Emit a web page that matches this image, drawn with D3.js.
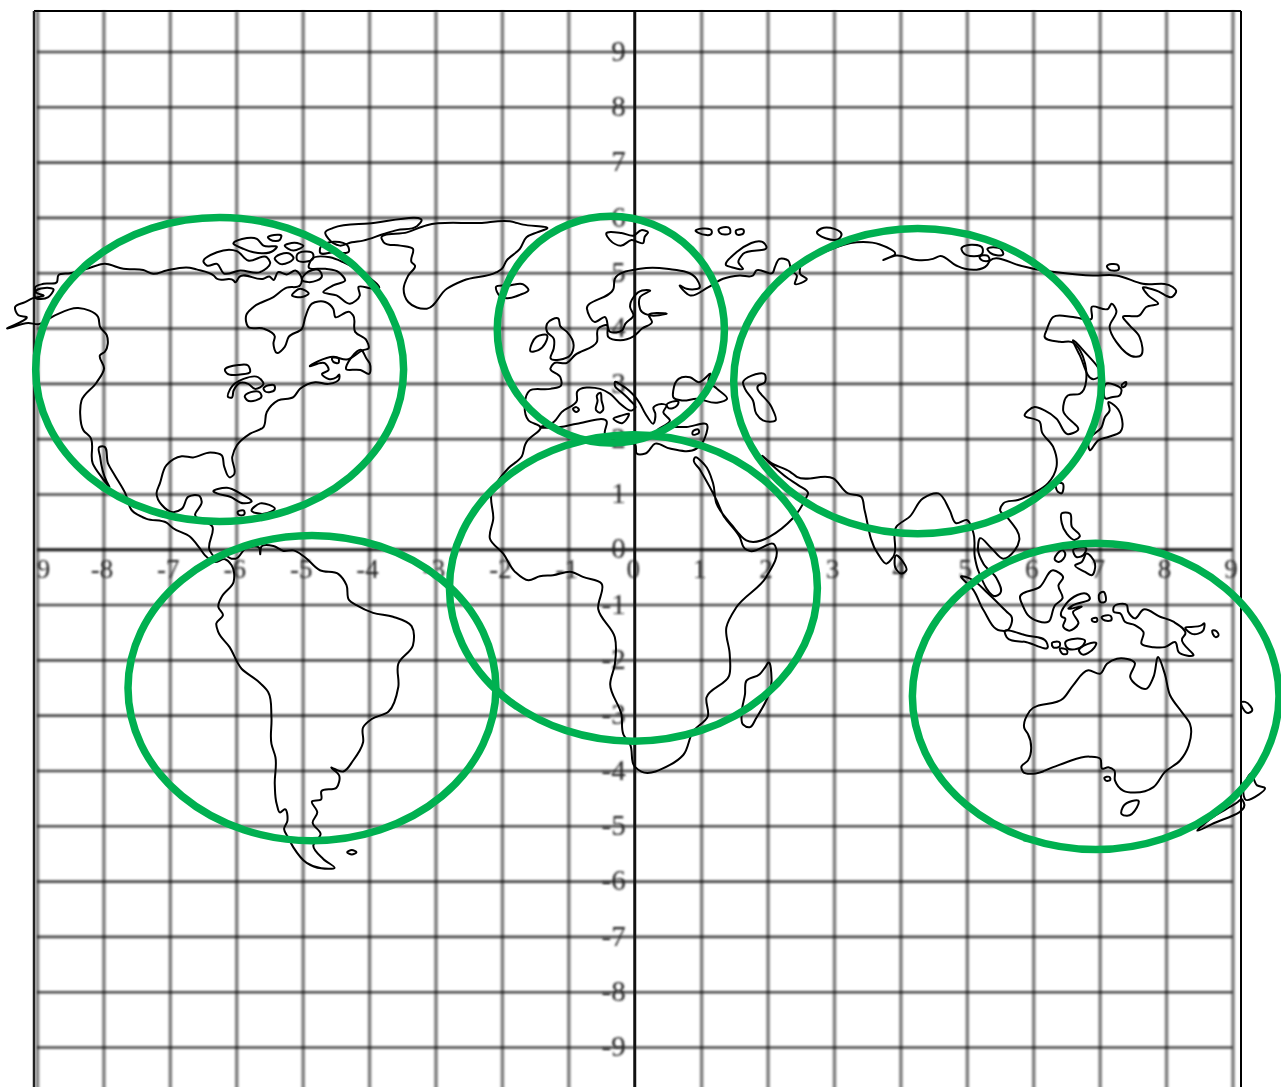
<!DOCTYPE html>
<html>
<head>
<meta charset="utf-8">
<script src="https://cdn.jsdelivr.net/npm/d3@7"></script>
<style>
  html, body { margin: 0; padding: 0; background: #fff; }
  svg { display: block; }
</style>
</head>
<body>
<div id="chart"></div>
<script>
// tick values and the labels printed on the grid
const gridTicks = [-9, -8, -7, -6, -5, -4, -3, -2, -1, 0, 1, 2, 3, 4, 5, 6, 7, 8, 9];
const xTickLabels = ["9", "-8", "-7", "-6", "-5", "-4", "-3", "-2", "-1", "0", "1", "2", "3", "4", "5", "6", "7", "8", "9"];
const yTickLabels = ["-9", "-8", "-7", "-6", "-5", "-4", "-3", "-2", "-1", "0", "1", "2", "3", "4", "5", "6", "7", "8", "9"];

// green regions: centre and radii in grid units
const regionCx = [-6.25, -0.36, 4.26, -0.02, -4.86, 6.94];
const regionCy = [3.25, 3.97, 3.04, -0.70, -2.51, -2.66];
const regionRx = [2.77, 1.71, 2.77, 2.77, 2.77, 2.76];
const regionRy = [2.75, 2.05, 2.76, 2.77, 2.76, 2.77];

// coastlines, [x, y]
const americas = [[-9.45,3.99],[-9.16,4.20],[-9.28,4.23],[-9.33,4.38],[-9.18,4.47],[-9.06,4.54],[-8.90,4.59],[-9.02,4.65],[-9.03,4.73],[-8.90,4.80],[-8.70,4.83],[-8.68,4.95],[-8.50,4.99],[-8.25,5.07],[-7.98,5.16],[-7.70,5.07],[-7.40,5.05],[-7.25,4.98],[-7.05,5.04],[-6.70,5.09],[-6.60,5.06],[-6.34,4.95],[-6.29,4.89],[-6.04,4.86],[-6.02,4.83],[-5.95,4.93],[-5.59,4.89],[-5.50,4.93],[-5.44,4.87],[-5.37,5.01],[-5.24,4.97],[-5.11,5.04],[-5.01,4.87],[-5.04,4.77],[-5.24,4.73],[-5.44,4.56],[-5.74,4.38],[-5.85,4.23],[-5.82,4.02],[-5.59,3.99],[-5.42,3.85],[-5.44,3.72],[-5.39,3.55],[-5.27,3.66],[-5.21,3.84],[-5.01,3.99],[-4.96,4.20],[-4.86,4.44],[-4.66,4.47],[-4.54,4.35],[-4.51,4.20],[-4.29,4.29],[-4.24,4.23],[-4.21,3.93],[-4.04,3.78],[-4.01,3.63],[-4.09,3.60],[-4.34,3.43],[-4.54,3.48],[-4.89,3.31],[-4.66,3.36],[-4.61,3.24],[-4.71,3.17],[-4.61,3.08],[-4.49,3.11],[-4.45,3.16],[-4.45,3.08],[-4.61,2.99],[-4.81,3.02],[-5.04,2.90],[-5.14,2.75],[-5.37,2.69],[-5.54,2.48],[-5.59,2.21],[-5.79,2.09],[-5.99,1.88],[-6.06,1.67],[-6.04,1.34],[-6.09,1.30],[-6.18,1.49],[-6.22,1.70],[-6.39,1.75],[-6.65,1.66],[-6.82,1.68],[-7.05,1.52],[-7.15,1.19],[-7.20,1.01],[-7.12,0.80],[-6.95,0.67],[-6.82,0.73],[-6.72,0.95],[-6.55,0.96],[-6.52,0.86],[-6.62,0.62],[-6.36,0.41],[-6.40,-0.02],[-6.32,-0.14],[-6.17,-0.11],[-6.07,-0.17],[-6.01,-0.17],[-5.85,0.02],[-5.65,0.02],[-5.64,-0.09],[-5.62,0.05],[-5.44,0.06],[-5.29,-0.03],[-5.14,-0.02],[-4.97,-0.14],[-4.74,-0.38],[-4.46,-0.45],[-4.34,-0.65],[-4.30,-0.92],[-4.19,-1.01],[-3.94,-1.15],[-3.64,-1.22],[-3.36,-1.39],[-3.34,-1.74],[-3.56,-2.07],[-3.56,-2.49],[-3.71,-2.94],[-3.96,-3.07],[-4.09,-3.22],[-4.09,-3.49],[-4.24,-3.82],[-4.39,-4.02],[-4.57,-3.95],[-4.45,-4.09],[-4.49,-4.31],[-4.72,-4.38],[-4.72,-4.52],[-4.86,-4.56],[-4.78,-4.76],[-4.85,-4.94],[-4.73,-5.15],[-4.84,-5.36],[-4.69,-5.60],[-4.52,-5.76],[-4.72,-5.77],[-4.94,-5.67],[-5.14,-5.39],[-5.22,-5.21],[-5.28,-5.06],[-5.23,-4.91],[-5.27,-4.70],[-5.34,-4.76],[-5.39,-4.61],[-5.42,-4.25],[-5.41,-3.76],[-5.47,-3.52],[-5.47,-3.04],[-5.52,-2.58],[-5.69,-2.37],[-5.92,-2.16],[-6.10,-1.77],[-6.27,-1.50],[-6.30,-1.34],[-6.20,-1.19],[-6.27,-1.04],[-6.22,-0.86],[-6.04,-0.59],[-6.07,-0.29],[-6.17,-0.18],[-6.32,-0.23],[-6.47,-0.11],[-6.55,0.02],[-6.70,0.23],[-6.95,0.38],[-7.05,0.48],[-7.35,0.55],[-7.57,0.70],[-7.67,1.01],[-7.83,1.34],[-7.93,1.55],[-8.00,1.86],[-8.06,1.85],[-8.05,1.67],[-7.95,1.22],[-7.91,1.13],[-8.03,1.31],[-8.16,1.55],[-8.20,2.03],[-8.30,2.15],[-8.35,2.45],[-8.33,2.69],[-8.10,3.02],[-7.99,3.27],[-8.05,3.51],[-7.98,3.57],[-7.95,3.87],[-8.05,4.02],[-8.08,4.20],[-8.38,4.36],[-8.73,4.23],[-8.98,4.07],[-9.13,4.09]];

const afroEurasia = [[-1.42,2.21],[-1.60,2.33],[-1.58,2.87],[-1.27,2.90],[-1.11,2.96],[-1.12,3.11],[-1.27,3.27],[-1.22,3.36],[-1.02,3.37],[-0.90,3.51],[-0.57,3.75],[-0.55,3.99],[-0.42,4.05],[-0.40,3.84],[-0.22,3.78],[-0.02,3.85],[0.11,3.99],[0.26,4.11],[0.21,4.23],[0.48,4.26],[0.23,4.23],[0.11,4.29],[0.08,4.56],[0.23,4.68],[0.11,4.68],[-0.07,4.38],[-0.02,4.23],[-0.14,4.08],[-0.19,3.96],[-0.37,3.93],[-0.45,4.20],[-0.60,4.11],[-0.72,4.35],[-0.32,4.71],[-0.30,4.89],[0.08,5.07],[0.48,5.07],[0.93,4.89],[0.98,4.74],[0.78,4.71],[0.68,4.77],[0.83,4.59],[1.11,4.74],[1.33,4.89],[1.58,4.95],[1.78,4.95],[1.83,5.04],[2.08,5.00],[2.11,5.10],[2.18,5.25],[2.31,5.22],[2.36,5.04],[2.44,4.95],[2.41,4.80],[2.59,4.89],[2.49,4.98],[2.49,5.10],[2.91,5.40],[3.34,5.55],[3.69,5.51],[3.92,5.34],[3.74,5.23],[3.94,5.31],[4.24,5.23],[4.49,5.25],[4.59,5.30],[4.84,5.13],[4.97,5.07],[5.30,5.13],[5.35,5.22],[5.80,5.13],[6.00,5.07],[6.35,5.01],[6.90,4.95],[7.25,4.95],[7.65,4.80],[8.10,4.74],[8.15,4.68],[8.10,4.57],[7.85,4.68],[7.65,4.73],[7.73,4.59],[7.88,4.44],[7.70,4.38],[7.60,4.23],[7.35,4.20],[7.45,4.05],[7.60,3.84],[7.60,3.49],[7.55,3.48],[7.25,3.75],[7.15,4.02],[7.25,4.32],[7.18,4.44],[7.13,4.35],[6.88,4.38],[6.88,4.17],[6.60,4.20],[6.30,4.20],[6.20,3.96],[6.17,3.85],[6.40,3.75],[6.57,3.75],[6.78,3.36],[6.70,2.81],[6.52,2.78],[6.45,2.51],[6.67,2.15],[6.52,2.08],[6.35,2.36],[6.17,2.51],[6.02,2.57],[5.87,2.42],[6.10,2.30],[6.13,2.12],[6.30,1.85],[6.35,1.49],[6.22,1.19],[6.00,1.01],[5.77,0.89],[5.55,0.83],[5.50,0.71],[5.62,0.56],[5.79,0.17],[5.72,-0.02],[5.55,-0.17],[5.37,0.02],[5.20,0.20],[5.17,-0.02],[5.25,-0.26],[5.45,-0.53],[5.50,-0.80],[5.47,-0.83],[5.17,-0.38],[5.12,-0.14],[5.10,0.29],[5.00,0.53],[4.84,0.47],[4.74,0.71],[4.57,1.01],[4.34,0.92],[4.14,0.59],[3.94,0.41],[3.89,-0.14],[3.79,-0.26],[3.66,-0.08],[3.46,0.71],[3.41,0.95],[3.21,1.01],[2.99,1.28],[2.44,1.31],[2.34,1.40],[2.03,1.58],[1.93,1.68],[2.31,1.28],[2.46,1.16],[2.61,1.01],[2.58,0.93],[2.38,0.56],[1.68,0.16],[1.46,0.44],[1.23,0.83],[1.18,1.19],[1.05,1.53],[0.90,1.65],[0.89,1.62],[0.98,1.44],[1.23,0.89],[1.33,0.62],[1.58,0.22],[1.66,0.01],[1.73,-0.03],[2.11,0.07],[2.13,0.01],[1.98,-0.50],[1.53,-1.05],[1.38,-1.41],[1.43,-1.90],[1.42,-2.29],[1.08,-2.68],[1.10,-3.02],[0.88,-3.29],[0.73,-3.72],[0.53,-3.90],[0.10,-4.02],[0.00,-3.93],[-0.07,-3.53],[-0.17,-3.35],[-0.20,-2.99],[-0.37,-2.44],[-0.30,-2.08],[-0.30,-1.59],[-0.55,-1.08],[-0.50,-0.62],[-0.78,-0.50],[-0.95,-0.41],[-1.23,-0.47],[-1.43,-0.49],[-1.60,-0.56],[-1.80,-0.41],[-1.98,-0.08],[-2.18,0.19],[-2.13,0.56],[-2.16,0.98],[-1.90,1.47],[-1.70,1.68],[-1.65,1.89],[-1.63,1.94]];

const mediterranean = [[-1.42,2.21],[-1.22,2.30],[-1.10,2.48],[-0.87,2.69],[-0.87,2.84],[-0.52,2.90],[-0.37,2.81],[-0.19,2.60],[-0.04,2.51],[0.01,2.56],[-0.07,2.69],[-0.19,2.83],[-0.30,2.96],[-0.30,3.02],[-0.19,2.96],[0.01,2.75],[0.08,2.63],[0.16,2.45],[0.28,2.27],[0.31,2.45],[0.28,2.56],[0.36,2.62],[0.48,2.60],[0.43,2.48],[0.53,2.33],[0.34,2.16],[0.58,2.21],[0.78,2.21],[1.09,2.25],[1.06,2.03],[1.01,1.91],[0.93,1.82],[0.53,1.82],[0.31,1.91],[0.16,1.73],[0.03,1.73],[0.01,1.88],[-0.22,1.94],[-0.45,2.09],[-0.42,2.30],[-0.87,2.27],[-1.12,2.21]];

const blackSea = [[0.58,2.87],[0.66,3.08],[0.83,3.11],[0.96,3.02],[1.14,3.17],[1.11,3.05],[1.24,2.90],[1.39,2.72],[1.24,2.65],[0.93,2.72],[0.71,2.69],[0.58,2.75]];
const caspian = [[1.63,3.02],[1.76,3.14],[1.96,3.16],[1.96,3.02],[1.86,2.96],[2.06,2.57],[2.12,2.33],[1.93,2.33],[1.83,2.45],[1.78,2.69],[1.66,2.90]];
const marmara = [[0.48,2.60],[0.66,2.66],[0.64,2.60],[0.50,2.56]];

const greenland = [[-3.81,5.61],[-3.43,5.73],[-3.13,5.86],[-2.33,5.90],[-1.88,5.93],[-1.68,5.87],[-1.32,5.80],[-1.47,5.73],[-1.63,5.64],[-1.73,5.43],[-1.93,5.22],[-2.00,5.07],[-2.08,5.01],[-2.58,4.86],[-2.83,4.71],[-3.13,4.35],[-3.28,4.37],[-3.41,4.47],[-3.48,4.71],[-3.41,4.95],[-3.31,5.13],[-3.36,5.19],[-3.34,5.43],[-3.53,5.49],[-3.78,5.55]];
const baffin = [[-4.91,5.10],[-4.86,5.25],[-4.59,5.28],[-4.39,5.19],[-3.88,4.71],[-3.98,4.72],[-4.16,4.74],[-4.14,4.59],[-4.29,4.44],[-4.49,4.59],[-4.69,4.65],[-4.54,4.77],[-4.36,4.86],[-4.46,5.01],[-4.66,5.07]];
const ellesmere = [[-4.66,5.73],[-4.54,5.81],[-4.01,5.89],[-3.23,5.90],[-3.28,5.84],[-3.58,5.77],[-3.78,5.70],[-4.09,5.58],[-4.26,5.55],[-4.44,5.49],[-4.61,5.61]];
const arcticCanada = [
  [[-6.49,5.19],[-6.29,5.37],[-5.99,5.39],[-5.82,5.22],[-5.54,5.28],[-5.49,5.19],[-5.64,5.01],[-5.94,5.04],[-6.19,4.99],[-6.29,5.16],[-6.44,5.13]],
  [[-6.04,5.52],[-5.69,5.61],[-5.59,5.49],[-5.39,5.46],[-5.44,5.40],[-5.74,5.37],[-5.89,5.43]],
  [[-5.52,5.63],[-5.32,5.66],[-5.34,5.60],[-5.49,5.60]],
  [[-5.27,5.49],[-5.12,5.54],[-4.99,5.49],[-5.14,5.40]],
  [[-5.42,5.25],[-5.19,5.34],[-5.14,5.28],[-5.34,5.16]],
  [[-5.09,5.31],[-4.84,5.33],[-4.84,5.27],[-5.09,5.25]],
  [[-5.01,4.87],[-4.96,4.98],[-4.74,5.03],[-4.71,4.95],[-4.91,4.83]],
  [[-5.16,4.59],[-5.04,4.71],[-4.91,4.62],[-5.01,4.56]],
  [[-4.74,5.43],[-4.31,5.46],[-4.30,5.40],[-4.54,5.37],[-4.74,5.37]]
];
const greatLakes = [
  [[-6.17,3.23],[-5.97,3.33],[-5.82,3.32],[-5.79,3.21],[-5.94,3.16],[-6.14,3.18]],
  [[-6.12,2.75],[-6.09,2.90],[-5.89,3.08],[-5.67,3.11],[-5.59,2.99],[-5.72,2.90],[-5.82,2.99],[-5.94,3.01],[-6.04,2.87],[-6.07,2.74]],
  [[-5.87,2.75],[-5.64,2.83],[-5.62,2.78],[-5.84,2.70]],
  [[-5.59,2.90],[-5.42,2.95],[-5.42,2.89],[-5.57,2.86]]
];
const atlanticIslands = [
  [[-4.34,3.25],[-4.11,3.60],[-4.04,3.45],[-3.99,3.36],[-4.00,3.17],[-4.13,3.24]],
  [[-4.56,3.45],[-4.46,3.45],[-4.46,3.37],[-4.54,3.39]],
  [[-6.34,1.04],[-6.14,1.11],[-5.94,1.01],[-5.77,0.86],[-5.89,0.83],[-6.09,0.95],[-6.29,1.01]],
  [[-5.77,0.70],[-5.64,0.83],[-5.42,0.73],[-5.59,0.64]],
  [[-5.98,0.67],[-5.88,0.69],[-5.88,0.63],[-5.97,0.63]],
  [[-9.03,4.65],[-8.75,4.69],[-8.83,4.56],[-9.03,4.56]],
  [[-4.33,-5.48],[-4.26,-5.44],[-4.19,-5.48],[-4.26,-5.52]],
  [[-2.09,4.74],[-1.88,4.77],[-1.68,4.79],[-1.60,4.69],[-1.73,4.60],[-1.93,4.54],[-2.03,4.58]]
];
const europeIslands = [
  [[-1.32,4.08],[-1.15,4.17],[-1.12,4.03],[-1.02,3.93],[-0.92,3.69],[-0.97,3.51],[-1.27,3.46],[-1.22,3.63],[-1.22,3.81],[-1.32,3.93]],
  [[-1.55,3.72],[-1.48,3.84],[-1.32,3.87],[-1.35,3.72],[-1.45,3.60],[-1.57,3.58]],
  [[-0.43,5.70],[-0.20,5.72],[-0.02,5.67],[0.10,5.77],[0.20,5.73],[0.15,5.65],[0.13,5.54],[-0.05,5.59],[-0.20,5.49],[-0.38,5.60]],
  [[0.92,5.75],[1.16,5.75],[1.16,5.72],[0.96,5.72]],
  [[1.26,5.77],[1.43,5.80],[1.44,5.73],[1.28,5.72]],
  [[1.52,5.75],[1.64,5.77],[1.64,5.72],[1.53,5.70]],
  [[2.75,5.75],[2.81,5.80],[3.11,5.67],[3.09,5.63]],
  [[1.38,5.13],[1.53,5.37],[1.96,5.52],[1.98,5.48],[1.63,5.34],[1.56,5.19],[1.63,5.07],[1.46,5.10]],
  [[-0.57,2.78],[-0.52,2.83],[-0.50,2.69],[-0.48,2.51],[-0.52,2.47],[-0.58,2.51],[-0.56,2.69]],
  [[-0.93,2.54],[-0.88,2.57],[-0.84,2.52],[-0.88,2.48]],
  [[-0.32,2.36],[-0.19,2.42],[-0.09,2.45],[-0.19,2.28]],
  [[0.87,2.12],[0.96,2.16],[0.97,2.12],[0.87,2.08]],
  [[2.01,-2.05],[2.06,-2.35],[1.83,-3.05],[1.73,-3.22],[1.63,-3.17],[1.61,-2.96],[1.66,-2.62],[1.68,-2.38],[1.88,-2.26],[1.96,-2.14]]
];
const asiaIslands = [
  [[4.92,5.42],[5.24,5.43],[5.24,5.37],[4.94,5.37]],
  [[5.31,5.42],[5.52,5.42],[5.55,5.34],[5.35,5.36]],
  [[5.19,5.28],[5.32,5.30],[5.34,5.23],[5.22,5.23]],
  [[7.11,5.11],[7.28,5.13],[7.29,5.07],[7.13,5.07]],
  [[7.33,2.96],[7.40,3.02],[7.39,2.96],[7.34,2.93]],
  [[6.60,3.78],[6.75,3.60],[6.98,3.11],[6.93,3.08],[6.70,3.51]],
  [[7.09,2.99],[7.33,2.87],[7.30,2.78],[7.18,2.75],[7.10,2.72]],
  [[7.13,2.66],[7.25,2.57],[7.31,2.12],[7.13,2.03],[6.98,1.97],[6.85,1.79],[6.83,1.97],[7.03,2.21],[7.08,2.39],[7.15,2.51]],
  [[6.35,1.19],[6.44,1.19],[6.42,1.01],[6.37,1.04]],
  [[3.94,-0.11],[4.04,-0.23],[4.09,-0.38],[4.02,-0.44],[3.93,-0.35]]
];
const indonesia = [
  [[4.92,-0.49],[5.05,-0.53],[5.32,-0.80],[5.60,-1.13],[5.67,-1.21],[5.60,-1.47],[5.50,-1.47],[5.25,-1.10],[5.10,-0.74]],
  [[5.57,-1.50],[5.90,-1.56],[6.20,-1.68],[6.22,-1.76],[5.90,-1.68],[5.60,-1.59]],
  [[6.28,-1.70],[6.40,-1.69],[6.40,-1.75],[6.30,-1.77]],
  [[6.48,-1.70],[6.78,-1.67],[6.75,-1.74],[6.50,-1.77]],
  [[6.69,-1.84],[6.95,-1.71],[6.92,-1.78],[6.72,-1.89]],
  [[6.40,-1.80],[6.51,-1.83],[6.51,-1.89],[6.44,-1.89]],
  [[5.80,-0.86],[6.10,-0.68],[6.30,-0.38],[6.45,-0.51],[6.38,-0.65],[6.44,-0.89],[6.33,-1.01],[6.23,-1.31],[5.92,-1.19],[5.85,-1.04]],
  [[6.50,-0.98],[6.83,-0.83],[6.85,-0.87],[6.60,-1.01],[6.53,-1.07],[6.73,-1.04],[6.60,-1.13],[6.68,-1.34],[6.53,-1.47],[6.45,-1.40],[6.48,-1.25],[6.43,-1.22]],
  [[6.43,0.65],[6.55,0.65],[6.58,0.41],[6.70,0.23],[6.63,0.17],[6.50,0.29],[6.43,0.47]],
  [[6.63,-0.29],[6.73,-0.23],[6.80,-0.08],[6.93,-0.26],[6.88,-0.47],[6.78,-0.41]],
  [[6.60,-0.02],[6.80,0.01],[6.75,-0.11],[6.65,-0.14]],
  [[6.33,-0.20],[6.45,-0.02],[6.48,-0.07],[6.38,-0.23]],
  [[7.00,-0.80],[7.05,-0.77],[7.08,-0.95],[7.02,-0.96]],
  [[7.03,-1.24],[7.17,-1.21],[7.18,-1.27],[7.05,-1.27]],
  [[6.88,-1.27],[6.96,-1.25],[6.96,-1.30],[6.89,-1.30]]
];
const newGuinea = [[7.21,-1.05],[7.41,-1.01],[7.43,-1.13],[7.53,-1.25],[7.66,-1.09],[7.91,-1.22],[8.11,-1.31],[8.29,-1.53],[8.24,-1.62],[8.41,-1.92],[8.19,-1.86],[8.14,-1.68],[7.98,-1.77],[7.81,-1.77],[7.63,-1.71],[7.66,-1.50],[7.53,-1.37],[7.38,-1.31],[7.31,-1.16],[7.21,-1.13]];
const australia = [[5.95,-2.92],[6.45,-2.70],[6.60,-2.46],[6.83,-2.19],[7.01,-2.25],[7.11,-2.07],[7.26,-1.98],[7.53,-2.06],[7.46,-2.31],[7.71,-2.52],[7.81,-2.31],[7.88,-1.95],[7.98,-2.25],[8.06,-2.64],[8.24,-2.95],[8.36,-3.16],[8.34,-3.55],[8.21,-3.82],[7.98,-4.03],[7.81,-4.30],[7.53,-4.40],[7.36,-4.37],[7.23,-4.18],[7.22,-4.00],[7.13,-3.94],[7.04,-3.97],[7.01,-3.79],[6.85,-3.75],[6.50,-3.85],[6.30,-3.94],[6.00,-4.06],[5.85,-4.03],[5.82,-3.94],[5.92,-3.82],[5.92,-3.34],[5.87,-3.25]];
const pacificIslands = [
  [[8.29,-1.43],[8.54,-1.37],[8.57,-1.34],[8.56,-1.47],[8.39,-1.53]],
  [[8.70,-1.47],[8.74,-1.47],[8.79,-1.56],[8.75,-1.59]],
  [[7.07,-4.14],[7.15,-4.12],[7.16,-4.17],[7.09,-4.18]],
  [[7.36,-4.64],[7.59,-4.56],[7.56,-4.67],[7.41,-4.82],[7.33,-4.79]],
  [[9.14,-2.76],[9.19,-2.76],[9.29,-2.93],[9.24,-2.96]],
  [[9.29,-4.06],[9.37,-4.27],[9.49,-4.32],[9.39,-4.44],[9.19,-4.52],[9.17,-4.46]],
  [[9.14,-4.52],[9.17,-4.58],[8.69,-4.97],[8.47,-5.09],[8.66,-4.88],[9.07,-4.58]]
];

const coastlines = [americas, afroEurasia, mediterranean, blackSea, caspian, marmara, greenland, baffin, ellesmere, newGuinea, australia]
  .concat(arcticCanada, greatLakes, atlanticIslands, europeIslands, asiaIslands, indonesia, pacificIslands);

const width = 1281, height = 1087;

const svg = d3.select("#chart")
    .append("svg")
    .attr("width", width)
    .attr("height", height);

// the grid and its numbers look like an enlarged bitmap, so they get a soft blur
const defs = svg.append("defs");
defs.append("filter").attr("id", "soft")
    .attr("filterUnits", "userSpaceOnUse")
    .attr("x", 0).attr("y", 0).attr("width", width).attr("height", height)
    .append("feGaussianBlur").attr("stdDeviation", 1.2);
defs.append("filter").attr("id", "softText")
    .attr("filterUnits", "userSpaceOnUse")
    .attr("x", 0).attr("y", 0).attr("width", width).attr("height", height)
    .append("feGaussianBlur").attr("stdDeviation", 0.9);

// Scales
const x = d3.scaleLinear().domain([-9, 9]).range([37, 1232.5]);
const y = d3.scaleLinear().domain([9, -9]).range([51.5, 1047]);

// Grid lines, the verticals wider and paler than the horizontals
const grid = svg.append("g").attr("filter", "url(#soft)");

grid.append("g")
    .attr("transform", `translate(0,${height + 10})`)
    .call(d3.axisBottom(x).tickValues(gridTicks).tickFormat("").tickSize(-(height - 1)))
    .call(g => g.select(".domain").remove())
    .call(g => g.selectAll("line").attr("stroke", "#000").attr("stroke-opacity", d => d === 0 ? 0 : 0.5).attr("stroke-width", 3.5));

grid.append("g")
    .attr("transform", `translate(${x(-9)},0)`)
    .call(d3.axisLeft(y).tickValues(gridTicks).tickFormat("").tickSize(-(x(9) - x(-9))))
    .call(g => g.select(".domain").remove())
    .call(g => g.selectAll("line").attr("stroke", "#000").attr("stroke-opacity", d => d === 0 ? 0.95 : 0.72).attr("stroke-width", d => d === 0 ? 3 : 2.6));

// Tick labels
const labels = svg.append("g").attr("filter", "url(#softText)");

labels.append("g")
    .attr("transform", `translate(0,${y(0)})`)
    .call(d3.axisBottom(x).tickValues(gridTicks).tickFormat((d, i) => xTickLabels[i]).tickSize(0).tickPadding(10))
    .call(g => g.select(".domain").remove())
    .call(g => g.selectAll("text").attr("dx", (d, i) => i === 0 ? 6 : -2).attr("font-size", 27));

labels.append("g")
    .attr("transform", `translate(${x(0)},0)`)
    .call(d3.axisLeft(y).tickValues(gridTicks).tickFormat((d, i) => yTickLabels[i]).tickSize(0).tickPadding(9))
    .call(g => g.select(".domain").remove())
    .call(g => g.selectAll("text").attr("dy", "0.3em").attr("font-size", 29));

labels.selectAll("text")
    .attr("font-family", "'Liberation Serif', serif")
    .attr("fill", "#222");

// Zero axis and frame stay crisp
svg.append("line").attr("x1", x(0)).attr("x2", x(0)).attr("y1", 11).attr("y2", height).attr("stroke", "#111").attr("stroke-width", 3);
svg.append("line").attr("x1", 34).attr("x2", 1241).attr("y1", 11).attr("y2", 11).attr("stroke", "#000").attr("stroke-width", 2);
svg.append("line").attr("x1", 34).attr("x2", 34).attr("y1", 11).attr("y2", height).attr("stroke", "#222").attr("stroke-width", 2.5);
svg.append("line").attr("x1", 1241).attr("x2", 1241).attr("y1", 11).attr("y2", height).attr("stroke", "#000").attr("stroke-width", 2);

// Coastlines
const coast = d3.line()
    .x(d => x(d[0]))
    .y(d => y(d[1]))
    .curve(d3.curveCatmullRomClosed.alpha(1));

svg.append("g")
    .selectAll("path")
    .data(coastlines)
    .enter()
    .append("path")
    .attr("d", coast)
    .attr("fill", "none")
    .attr("stroke", "#000")
    .attr("stroke-width", 2)
    .attr("stroke-linejoin", "round");

// Green regions
svg.append("g")
    .selectAll("ellipse")
    .data(regionCx)
    .enter()
    .append("ellipse")
    .attr("cx", d => x(d))
    .attr("cy", (d, i) => y(regionCy[i]))
    .attr("rx", (d, i) => x(regionRx[i]) - x(0))
    .attr("ry", (d, i) => y(0) - y(regionRy[i]))
    .attr("fill", "none")
    .attr("stroke", "#00b050")
    .attr("stroke-width", 7.5);
</script>
</body>
</html>
